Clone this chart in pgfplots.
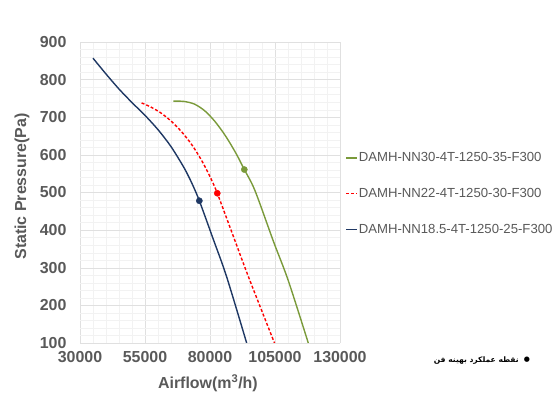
\documentclass[border=0pt]{standalone}
\usepackage{pgfplots}
\pgfplotsset{compat=1.18}
\usepackage{fontspec}
\setmainfont{Liberation Sans}
\newfontfamily\arabicfont[Script=Arabic]{DejaVu Sans}
\newfontfamily\symfont{DejaVu Sans}
\TeXXeTstate=1
\definecolor{cblue}{HTML}{1F3864}
\definecolor{cred}{HTML}{FF0000}
\definecolor{cgreen}{HTML}{7A9A3A}
\definecolor{txtgray}{HTML}{595959}
\begin{document}
\begin{tikzpicture}
\path[use as bounding box, clip] (0,0) rectangle (559bp,394bp);
\begin{axis}[
  at={(80bp,51bp)}, anchor=south west,
  scale only axis, width=260bp, height=301bp,
  xmin=30000, xmax=130000, ymin=100, ymax=900,
  xtick={30000,55000,80000,105000,130000},
  xticklabels={30000,55000,80000,105000,130000},
  ytick={100,200,300,400,500,600,700,800,900},
  yticklabels={100,200,300,400,500,600,700,800,900},
  minor x tick num=4, minor y tick num=4,
  grid=both,
  major grid style={color=black!12, line width=0.5bp},
  minor grid style={color=black!5, line width=0.4bp},
  axis line style={draw=none},
  tick style={draw=none},
  scaled ticks=false,
  ticklabel style={font=\bfseries\fontsize{16}{16}\selectfont, text=txtgray},
  xticklabel style={yshift=-5bp},
  yticklabel style={xshift=-10bp},
  xlabel={Airflow(m\textsuperscript{3}/h)},
  ylabel={Static Pressure(Pa)},
  label style={font=\bfseries\fontsize{16}{16}\selectfont, text=txtgray},
  xlabel style={at={(axis description cs:0.492,-0.133)}, anchor=center},
  ylabel style={at={(axis description cs:-0.223,0.52)}, anchor=center},
  legend style={at={(1.02,0.64)}, anchor=north west, draw=none, fill=none,
    font=\fontsize{13.2}{13.2}\selectfont, text=txtgray, row sep=21bp,
    inner sep=0pt, nodes={inner xsep=1bp}},
  legend cell align=left,
  legend image code/.code={\draw[#1, line width=1.4bp] (0bp,0bp) -- (11bp,0bp);},
]
\addplot[cgreen, line width=1.4bp, smooth] coordinates {
(65900,743)(70000,742)(74000,735)(78000,717)(82000,688)(86000,650)(90000,604)(93200,561)(97300,505)(104400,370)(110100,266)(117800,100)};
\addlegendentry{DAMH-NN30-4T-1250-35-F300}
\addplot[cred, line width=1.4bp, dash pattern=on 3bp off 2bp, smooth] coordinates {
(53700,738)(57000,728)(61000,712)(65000,690)(69000,662)(73000,627)(76800,585)(80000,542)(82800,498)(89600,372)(94900,274)(104800,100)};
\addlegendentry{DAMH-NN22-4T-1250-30-F300}
\addplot[cblue, line width=1.4bp, smooth] coordinates {
(35000,857)(40000,815)(45000,775)(50000,739)(55000,705)(60000,667)(65000,622)(70000,566)(73000,525)(75900,478)(81300,375)(86400,276)(94100,100)};
\addlegendentry{DAMH-NN18.5-4T-1250-25-F300}
\addplot[only marks, mark=*, mark size=3.1bp, color=cgreen, forget plot] coordinates {(93200,561)};
\addplot[only marks, mark=*, mark size=3.1bp, color=cred, forget plot] coordinates {(82800,498)};
\addplot[only marks, mark=*, mark size=3.1bp, color=cblue, forget plot] coordinates {(75900,478)};
\end{axis}
\node[anchor=east, inner sep=0pt] at (519bp,33bp) {\arabicfont\bfseries\fontsize{7.6}{7.6}\selectfont\beginR نقطه عملکرد بهینه فن\endR};
\node[inner sep=0pt] at (527bp,34bp) {\symfont\fontsize{7}{7}\selectfont ●};
\end{tikzpicture}
\end{document}
